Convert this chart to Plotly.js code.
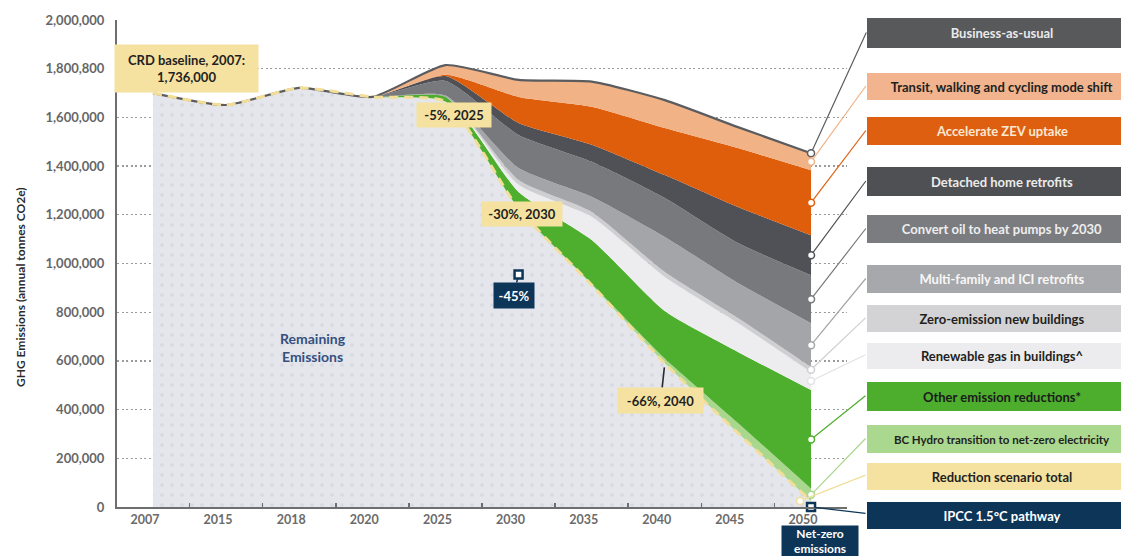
<!DOCTYPE html>
<html><head><meta charset="utf-8">
<script src="https://cdn.plot.ly/plotly-3.0.1.min.js"></script>
<style>html,body{margin:0;padding:0;background:#fff}#chart{width:1121px;height:556px}</style>
</head><body><div id="chart"></div>
<script>
// ---------- DATA ----------
const years = ['2007','2015','2018','2020','2025','2030','2035','2040','2045','2050'];
// stacked layers (annual tonnes CO2e), bottom to top
const remainingEmissions = [1700000,1651000,1721000,1684000,1665000,1225000,912000,590000,304000,25000];
const bcHydro            = [0,0,0,0,0,0,5000,20000,41000,50000];
const otherReductions    = [0,0,0,0,20000,69000,180000,195000,292000,405000];
const renewableGas       = [0,0,0,0,0,29000,95000,140000,119000,74000];
const zeroEmissionNew    = [0,0,0,0,0,20000,20000,20000,20000,20000];
const multiFamilyICI     = [0,0,0,0,5000,49000,62000,144000,144000,181000];
const convertOil         = [0,0,0,0,60000,136000,144000,160000,164000,197000];
const detachedRetrofits  = [0,0,0,0,20000,49000,70000,94000,148000,164000];
const zevUptake          = [0,0,0,0,5000,107000,156000,193000,242000,267000];
const transitModeShift   = [0,0,0,0,40000,70000,103000,115000,86000,70000];
// IPCC 1.5°C pathway points
const ipccYears  = ['2030','2050'];
const ipccValues = [954800, 0];
// y-axis ticks
const yTickVals = [0,200000,400000,600000,800000,1000000,1200000,1400000,1600000,1800000,2000000];
const yTickText = ['0','200,000','400,000','600,000','800,000','1,000,000','1,200,000','1,400,000','1,600,000','1,800,800','2,000,000'];

// ---------- LAYOUT GEOMETRY ----------
const L = 117, R = 847, T = 20, B = 507;
const xRange = [-0.492, 9.492], yRange = [0, 2000000];
const FONT = 'Lato, "Open Sans", sans-serif';
const px2paperX = px => (px - L) / (R - L);
const py2paperY = py => (B - py) / (B - T);
const px2xval = px => xRange[0] + (px - L) / (R - L) * (xRange[1] - xRange[0]);
const py2val  = py => yRange[0] + (B - py) / (B - T) * (yRange[1] - yRange[0]);

const xIdx = years.map((_, i) => i);
const yearIndex = y => years.indexOf(y);

const layers = [
  {name:'Remaining Emissions', y: remainingEmissions, fill:'#e4e6eb', lead:'#f2de98'},
  {name:'BC Hydro transition to net-zero electricity', y: bcHydro, fill:'#a9d78e', lead:'#a9d78e'},
  {name:'Other emission reductions*', y: otherReductions, fill:'#4eae2d', lead:'#4eae2d'},
  {name:'Renewable gas in buildings^', y: renewableGas, fill:'#ededef', lead:'#e2e2e4'},
  {name:'Zero-emission new buildings', y: zeroEmissionNew, fill:'#cfcfd2', lead:'#cfcfd2'},
  {name:'Multi-family and ICI retrofits', y: multiFamilyICI, fill:'#a4a5a8', lead:'#a4a5a8'},
  {name:'Convert oil to heat pumps by 2030', y: convertOil, fill:'#78797d', lead:'#78797d'},
  {name:'Detached home retrofits', y: detachedRetrofits, fill:'#505156', lead:'#505156'},
  {name:'Accelerate ZEV uptake', y: zevUptake, fill:'#df5e0c', lead:'#df5e0c'},
  {name:'Transit, walking and cycling mode shift', y: transitModeShift, fill:'#f1b286', lead:'#f1b286'}
];

const SMOOTH = 0.55;
const traces = [];
layers.forEach((ly, i) => {
  const top = i === layers.length - 1;
  const t = {
    type:'scatter', mode:'lines', x: xIdx, y: ly.y, name: ly.name,
    stackgroup:'one', fillcolor: ly.fill,
    line:{width: top ? 2.2 : 0, color: top ? '#5b5c60' : ly.fill, shape:'spline', smoothing:SMOOTH},
    hoverinfo:'skip', showlegend:false
  };
  if (i === 0) {
    t.fillpattern = {shape:'.', bgcolor:'#e4e6eb', fgcolor:'#d6d9e0', size:10, solidity:0.1};
  }
  traces.push(t);
});
// reduction scenario total dashed line
traces.push({
  type:'scatter', mode:'lines', x: xIdx, y: remainingEmissions, showlegend:false, hoverinfo:'skip',
  line:{color:'#f2de98', width:3, dash:'9px,6px', shape:'spline', smoothing:SMOOTH}
});

// cumulative stack at 2050
const last = years.length - 1;
let cum = 0; const bounds = [];
layers.forEach(ly => { const b0 = cum; cum += ly.y[last]; bounds.push([b0, cum]); });
const bauTop = cum;

// boxes on the right
const boxes = [
  {t:'Business-as-usual', cy:33, h:30, bg:'#58595b', fc:'#e9e9e9', v:bauTop, lc:'#5b5c60'},
  {t:'Transit, walking and cycling mode shift', cy:86.5, h:27, bg:'#f1b48e', fc:'#231f20', li:9},
  {t:'Accelerate ZEV uptake', cy:131, h:28, bg:'#df5f10', fc:'#fbe8d2', li:8},
  {t:'Detached home retrofits', cy:181.5, h:29, bg:'#4f5054', fc:'#ebebeb', li:7},
  {t:'Convert oil to heat pumps by 2030', cy:229, h:28, bg:'#7b7c80', fc:'#eeeeee', li:6},
  {t:'Multi-family and ICI retrofits', cy:279, h:28, bg:'#a7a8ab', fc:'#f7f7f7', li:5},
  {t:'Zero-emission new buildings', cy:318.5, h:27, bg:'#d3d3d5', fc:'#231f20', li:4},
  {t:'Renewable gas in buildings^', cy:356, h:26, bg:'#ececee', fc:'#231f20', li:3},
  {t:'Other emission reductions*', cy:396.5, h:29, bg:'#4dae2d', fc:'#1b1b1b', li:2},
  {t:'BC Hydro transition to net-zero electricity', cy:439, h:28, bg:'#aad88f', fc:'#231f20', li:1, fs:11.5},
  {t:'Reduction scenario total', cy:476.5, h:27, bg:'#f5e2a0', fc:'#231f20', v:remainingEmissions[last], xo:-0.15, lc:'#f2de98'},
  {t:'IPCC 1.5°C pathway', cy:515.5, h:27, bg:'#0d3558', fc:'#ffffff', v:ipccValues[1], lc:'#0d3558', ipcc:true}
];
boxes.forEach(b => {
  if (b.li !== undefined) {
    b.v = (bounds[b.li][0] + bounds[b.li][1]) / 2;
    b.lc = layers[b.li].lead;
  }
  b.x = last + (b.xo || 0);
});

// markers at 2050
const mk = boxes.filter(b => !b.ipcc);
traces.push({
  type:'scatter', mode:'markers', x: mk.map(b => b.x), y: mk.map(b => b.v),
  marker:{symbol:'circle', size:7, color:'#ffffff', line:{color: mk.map(b => b.lc), width:1.5}},
  cliponaxis:false, showlegend:false, hoverinfo:'skip'
});
// IPCC markers
traces.push({
  type:'scatter', mode:'markers', x: ipccYears.map(yearIndex), y: ipccValues,
  marker:{symbol:'square', size:8, color:'#ffffff', line:{color:'#0d3558', width:2.5}},
  cliponaxis:false, showlegend:false, hoverinfo:'skip'
});

const annotations = [];
const BOXCX = 1002, BOXW = 270, BOXL = 867;
boxes.forEach(b => {
  annotations.push({
    xref:'paper', yref:'paper', x: px2paperX(BOXCX), y: py2paperY(b.cy), xanchor:'center', yanchor:'middle',
    text:'<b>' + b.t + '</b>', showarrow:false, width:BOXW, height:b.h, bgcolor:b.bg, borderpad:0, borderwidth:0,
    font:{family:FONT, size:b.fs || 13, color:b.fc}, align:'center', valign:'middle'
  });
  annotations.push({
    xref:'x', yref:'y', axref:'x', ayref:'y', x: b.x, y: b.v, ax: px2xval(BOXL), ay: py2val(b.cy - 2),
    text:'', showarrow:true, arrowhead:0, arrowwidth:1.2, arrowcolor:b.lc, standoff:3.5
  });
});

// yellow labels
const yellow = '#f5e2a0';
annotations.push({xref:'paper', yref:'paper', x:px2paperX(186.5), y:py2paperY(68.5), xanchor:'center', yanchor:'middle',
  text:'<b>CRD baseline, 2007:<br>1,736,000</b>', showarrow:false, width:143, height:47, bgcolor:yellow, borderpad:0,
  font:{family:FONT, size:13, color:'#231f20'}});
annotations.push({xref:'paper', yref:'paper', x:px2paperX(454), y:py2paperY(115), xanchor:'center', yanchor:'middle',
  text:'<b>-5%, 2025</b>', showarrow:false, width:74, height:24, bgcolor:yellow, borderpad:0,
  font:{family:FONT, size:13, color:'#231f20'}});
annotations.push({xref:'paper', yref:'paper', x:px2paperX(522), y:py2paperY(214), xanchor:'center', yanchor:'middle',
  text:'<b>-30%, 2030</b>', showarrow:false, width:80, height:24, bgcolor:yellow, borderpad:0,
  font:{family:FONT, size:13, color:'#231f20'}});
annotations.push({xref:'x', yref:'y', x:yearIndex('2040'), y:remainingEmissions[yearIndex('2040')],
  ax:-4, ay:37, text:'<b>-66%, 2040</b>', showarrow:true, arrowhead:0, arrowwidth:1.6, arrowcolor:'#2b2b2b', standoff:4,
  width:85, height:25, bgcolor:yellow, borderpad:0, font:{family:FONT, size:13, color:'#231f20'}});
// navy labels
annotations.push({xref:'x', yref:'y', x:yearIndex('2030'), y:ipccValues[0],
  ax:-5, ay:21, text:'<b>-45%</b>', showarrow:true, arrowhead:0, arrowwidth:1.5, arrowcolor:'#0d3558', standoff:4,
  width:40, height:25, bgcolor:'#0d3558', borderpad:0, font:{family:FONT, size:13, color:'#ffffff'}});
annotations.push({xref:'paper', yref:'paper', x:px2paperX(820), y:py2paperY(541), xanchor:'center', yanchor:'middle',
  text:'<b>Net-zero<br>emissions</b>', showarrow:false, width:76, height:30, bgcolor:'#0d3558', borderpad:0,
  font:{family:FONT, size:12, color:'#ffffff'}});
// Remaining emissions label
annotations.push({xref:'paper', yref:'paper', x:px2paperX(313), y:py2paperY(347), xanchor:'center', yanchor:'middle',
  text:'<b>Remaining<br>Emissions</b>', showarrow:false, font:{family:FONT, size:14, color:'#35507f'}});
// y axis title
annotations.push({xref:'paper', yref:'paper', x:px2paperX(20), y:py2paperY(287), xanchor:'center', yanchor:'middle',
  text:'<b>GHG Emissions (annual tonnes CO2e)</b>', textangle:-90, showarrow:false,
  font:{family:FONT, size:12, color:'#2b2b2b'}});

const layout = {
  width:1121, height:556,
  margin:{l:L, r:1121-R, t:T, b:556-B, pad:0},
  paper_bgcolor:'#ffffff', plot_bgcolor:'#ffffff',
  font:{family:FONT, color:'#555'},
  showlegend:false, hovermode:false,
  xaxis:{
    range:xRange, showgrid:false, zeroline:false,
    showline:true, linecolor:'#6d6e70', linewidth:2,
    tickmode:'array', tickvals: xIdx.map(i => i - 0.11), ticktext: years, ticks:'',
    tickfont:{family:FONT, size:12.5, color:'#6b6b6b', weight:'bold'},
    minor:{tickmode:'linear', tick0:0.5, dtick:1, ticks:'inside', ticklen:4, tickwidth:1.5, tickcolor:'#6d6e70', showgrid:false}
  },
  yaxis:{
    range:yRange, zeroline:false,
    showline:true, linecolor:'#6d6e70', linewidth:2,
    showgrid:true, gridcolor:'#9b9b9b', griddash:'2px,2.5px', gridwidth:1.3,
    tickmode:'array', tickvals:yTickVals, ticktext:yTickText, ticks:'', ticklabelstandoff:8,
    tickfont:{family:FONT, size:13, color:'#666666', weight:'bold'}
  },
  annotations
};

Plotly.newPlot('chart', traces, layout, {displayModeBar:false, staticPlot:true});
</script>
</body></html>
